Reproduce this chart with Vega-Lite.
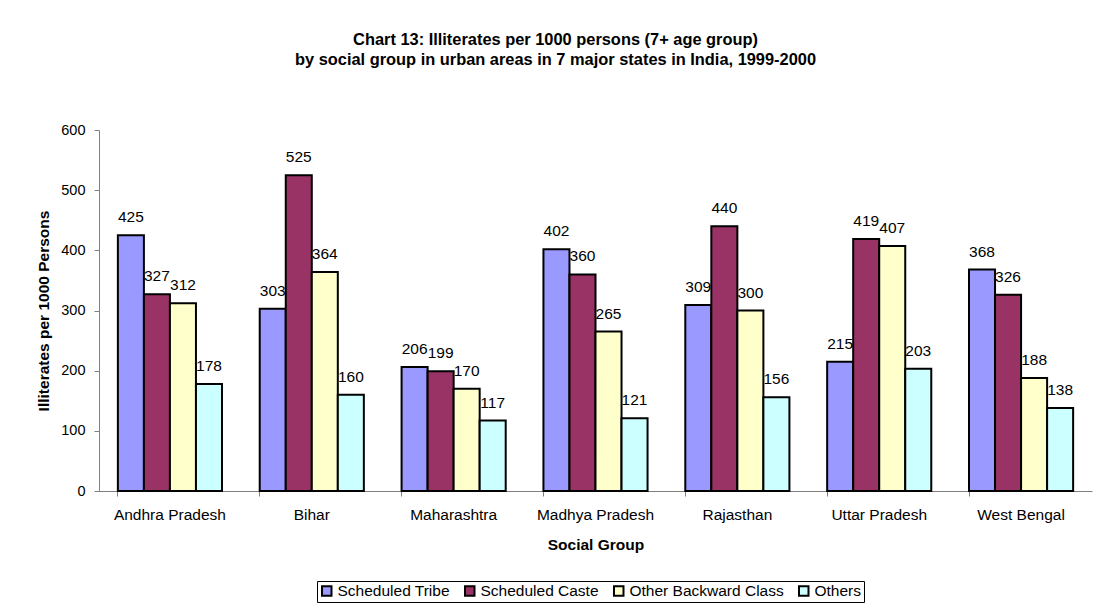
{
  "$schema": "https://vega.github.io/schema/vega-lite/v6.json",
  "width": 993,
  "height": 361,
  "autosize": "none",
  "padding": {"left": 99, "top": 130, "right": 9, "bottom": 119},
  "background": "white",
  "title": {
    "text": [
      "Chart 13: Illiterates per 1000 persons (7+ age group)",
      "by social group in urban areas in 7 major states in India, 1999-2000"
    ],
    "anchor": "middle",
    "dx": -40,
    "offset": 54,
    "fontSize": 16.4,
    "fontWeight": "bold",
    "font": "Liberation Sans",
    "color": "black",
    "lineHeight": 20
  },
  "data": {
    "values": [
      {"state": "Andhra Pradesh", "group": "Scheduled Tribe", "value": 425},
      {"state": "Andhra Pradesh", "group": "Scheduled Caste", "value": 327},
      {"state": "Andhra Pradesh", "group": "Other Backward Class", "value": 312},
      {"state": "Andhra Pradesh", "group": "Others", "value": 178},
      {"state": "Bihar", "group": "Scheduled Tribe", "value": 303},
      {"state": "Bihar", "group": "Scheduled Caste", "value": 525},
      {"state": "Bihar", "group": "Other Backward Class", "value": 364},
      {"state": "Bihar", "group": "Others", "value": 160},
      {"state": "Maharashtra", "group": "Scheduled Tribe", "value": 206},
      {"state": "Maharashtra", "group": "Scheduled Caste", "value": 199},
      {"state": "Maharashtra", "group": "Other Backward Class", "value": 170},
      {"state": "Maharashtra", "group": "Others", "value": 117},
      {"state": "Madhya Pradesh", "group": "Scheduled Tribe", "value": 402},
      {"state": "Madhya Pradesh", "group": "Scheduled Caste", "value": 360},
      {"state": "Madhya Pradesh", "group": "Other Backward Class", "value": 265},
      {"state": "Madhya Pradesh", "group": "Others", "value": 121},
      {"state": "Rajasthan", "group": "Scheduled Tribe", "value": 309},
      {"state": "Rajasthan", "group": "Scheduled Caste", "value": 440},
      {"state": "Rajasthan", "group": "Other Backward Class", "value": 300},
      {"state": "Rajasthan", "group": "Others", "value": 156},
      {"state": "Uttar Pradesh", "group": "Scheduled Tribe", "value": 215},
      {"state": "Uttar Pradesh", "group": "Scheduled Caste", "value": 419},
      {"state": "Uttar Pradesh", "group": "Other Backward Class", "value": 407},
      {"state": "Uttar Pradesh", "group": "Others", "value": 203},
      {"state": "West Bengal", "group": "Scheduled Tribe", "value": 368},
      {"state": "West Bengal", "group": "Scheduled Caste", "value": 326},
      {"state": "West Bengal", "group": "Other Backward Class", "value": 188},
      {"state": "West Bengal", "group": "Others", "value": 138}
    ]
  },
  "encoding": {
    "x": {
      "field": "state",
      "type": "nominal",
      "sort": null,
      "title": "Social Group",
      "scale": {"paddingInner": 0.266, "paddingOuter": 0.133},
      "axis": {
        "bandPosition": 0,
        "labelAngle": 0,
        "labelFontSize": 15.5,
        "labelPadding": 11,
        "labelColor": "black",
        "tickSize": 5,
        "tickColor": "#808080",
        "domainColor": "#808080",
        "titleFontSize": 15.5,
        "titleFontWeight": "bold",
        "titleColor": "black",
        "titlePadding": 15
      }
    },
    "xOffset": {
      "field": "group",
      "type": "nominal",
      "sort": ["Scheduled Tribe", "Scheduled Caste", "Other Backward Class", "Others"]
    },
    "y": {
      "field": "value",
      "type": "quantitative",
      "title": "Illiterates per 1000 Persons",
      "scale": {"domain": [0, 600]},
      "axis": {
        "values": [0, 100, 200, 300, 400, 500, 600],
        "grid": false,
        "labelFontSize": 14.5,
        "labelPadding": 9,
        "labelColor": "black",
        "tickSize": 5,
        "tickColor": "#808080",
        "domainColor": "#808080",
        "titleFontSize": 15.5,
        "titleFontWeight": "bold",
        "titleColor": "black",
        "titlePadding": 9
      }
    }
  },
  "layer": [
    {
      "mark": {"type": "bar", "stroke": "black", "strokeWidth": 2},
      "encoding": {
        "color": {
          "field": "group",
          "type": "nominal",
          "sort": ["Scheduled Tribe", "Scheduled Caste", "Other Backward Class", "Others"],
          "scale": {
            "domain": ["Scheduled Tribe", "Scheduled Caste", "Other Backward Class", "Others"],
            "range": ["#9999FF", "#993366", "#FFFFCC", "#CCFFFF"]
          },
          "legend": {
            "title": null,
            "orient": "none",
            "legendX": 218,
            "legendY": 451,
            "direction": "horizontal",
            "symbolType": "square",
            "symbolSize": 90,
            "symbolStrokeColor": "black",
            "symbolStrokeWidth": 2,
            "symbolOpacity": 1,
            "labelFontSize": 15.5,
            "labelColor": "black",
            "labelOffset": 3,
            "columnPadding": 11,
            "strokeColor": "black",
            "padding": 2
          }
        }
      }
    },
    {
      "mark": {"type": "text", "baseline": "alphabetic", "dy": -13, "fontSize": 15.5, "color": "black"},
      "encoding": {
        "text": {"field": "value", "type": "quantitative"}
      }
    }
  ],
  "config": {
    "font": "Liberation Sans",
    "view": {"stroke": null}
  }
}
